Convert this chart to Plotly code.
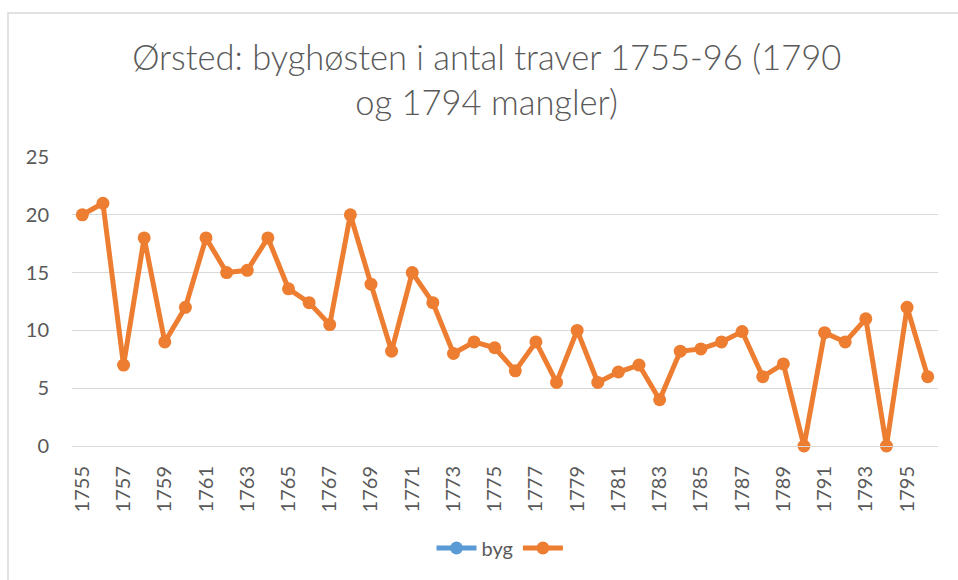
import plotly.graph_objects as go

years = [str(y) for y in range(1755, 1797)]
values = [20, 21, 7, 18, 9, 12, 18, 15, 15.2, 18, 13.6, 12.4, 10.5, 20, 14, 8.2, 15, 12.4,
          8, 9, 8.5, 6.5, 9, 5.5, 10, 5.5, 6.4, 7, 4, 8.2, 8.4, 9, 9.9, 6, 7.1, 0, 9.8, 9,
          11, 0, 12, 6]
byg_values = [None] * len(years)
tick_years = years[::2]
yticks = [0, 5, 10, 15, 20, 25]

title_text = "Ørsted: byghøsten i antal traver 1755-96 (1790<br>og 1794 mangler)"

FONT = "Lato, Carlito, 'Liberation Sans', sans-serif"
GRAY = "#595959"

fig = go.Figure()
fig.add_trace(go.Scatter(
    x=years, y=byg_values, name="byg", mode="lines+markers",
    line=dict(color="#5B9BD5", width=5), marker=dict(size=13, color="#5B9BD5"),
    cliponaxis=False,
))
fig.add_trace(go.Scatter(
    x=years, y=values, name=" ", mode="lines+markers",
    line=dict(color="#ED7D31", width=5), marker=dict(size=13, color="#ED7D31"),
    cliponaxis=False,
))

fig.update_layout(
    width=958, height=580,
    margin=dict(l=72, r=20, t=157, b=134),
    paper_bgcolor="white", plot_bgcolor="white",
    font=dict(family=FONT, color=GRAY, size=20),
    title=dict(text=title_text, x=0.508, xref="container", xanchor="center",
               y=0.879, yanchor="middle",
               font=dict(family=FONT, size=34.5, color=GRAY, weight=300)),
    showlegend=True,
    legend=dict(orientation="h", x=0.5, xanchor="center", y=-0.353, yanchor="middle",
                font=dict(size=20, color=GRAY), itemwidth=40),
    xaxis=dict(type="category", categoryorder="array", categoryarray=years,
               range=[-0.5, len(years) - 0.5],
               tickmode="array", tickvals=tick_years, ticktext=tick_years,
               tickangle=-90, showgrid=False, showline=True, linecolor="#D9D9D9",
               linewidth=1, ticks="", ticklabelstandoff=11,
               tickfont=dict(size=20, color=GRAY)),
    yaxis=dict(range=[0, 25], tickvals=yticks, showgrid=True, gridcolor="#D9D9D9",
               gridwidth=1, zeroline=False, showline=False, ticks="",
               ticklabelstandoff=22, tickfont=dict(size=20, color=GRAY)),
    shapes=[dict(type="rect", xref="paper", yref="paper",
                 x0=-0.0739, x1=1.03, y0=-0.6, y1=1.498,
                 line=dict(color="#D9D9D9", width=1.5), fillcolor="rgba(0,0,0,0)",
                 layer="below")],
)

fig.write_html("out.html", config={"displayModeBar": False},
               post_script="document.body.style.margin='0';document.body.style.overflow='hidden';")
